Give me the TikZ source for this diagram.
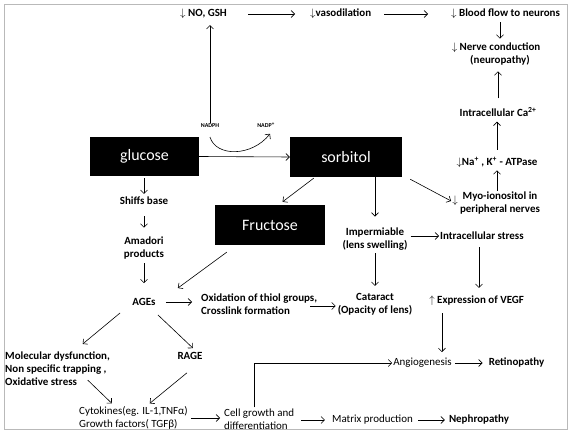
\documentclass[tikz,border=0pt]{standalone}
\usepackage{fontspec}
\setmainfont{Carlito}
\usetikzlibrary{arrows.meta}
\begin{document}
\begin{tikzpicture}[x=1bp,y=-1bp,
  lbl/.style={font=\bfseries\fontsize{11}{13}\selectfont, inner sep=1pt, align=center},
  reg/.style={font=\fontsize{11}{13}\selectfont, inner sep=1pt, align=center},
  blk/.style={fill=black, text=white, font=\fontsize{16}{19}\selectfont, inner sep=0pt},
  tinylbl/.style={font=\bfseries\fontsize{6}{7}\selectfont, inner sep=1pt},
  arr/.style={line width=0.6pt, -{Straight Barb[length=3.5pt,width=7pt]}},
  outerframe/.style={draw=gray!55, line width=1pt}]
\useasboundingbox (0,0) rectangle (573,436);
\draw[outerframe] (4,5) rectangle (567,429);

% black boxes
\node[blk, minimum width=109bp, minimum height=39bp] (glucose) at (144.5,156.5) {glucose};
\node[blk, minimum width=112bp, minimum height=40bp] (sorbitol) at (346,157) {sorbitol};
\node[blk, minimum width=110bp, minimum height=40bp] (fructose) at (270,225) {Fructose};

% top row
\node[lbl, anchor=west] (nogsh) at (179,14) {$\downarrow$\ NO, GSH};
\node[lbl, anchor=west] (vaso) at (309,14) {$\downarrow$vasodilation};
\node[lbl, anchor=west] (blood) at (450,14) {$\downarrow$ Blood flow to neurons};
\node[lbl] (nerve) at (500,54) {\llap{$\downarrow$ }Nerve conduction\\(neuropathy)};
\node[lbl] (ca) at (498,112) {Intracellular Ca\textsuperscript{2+}};
\node[lbl] (na) at (497,162) {$\downarrow$Na\textsuperscript{+} , K\textsuperscript{+} - ATPase};
\node[lbl] (myoarr) at (455,201) {$\downarrow$};
\node[lbl] (myo) at (500,203) {Myo-ionositol in\\peripheral nerves};

\node[tinylbl] (nadph) at (210,126) {NADPH};
\node[tinylbl] (nadp) at (266,125) {NADP\textsuperscript{+}};

% left column
\node[lbl] (shiffs) at (144,201) {Shiffs base};
\node[lbl] (amadori) at (144,248) {Amadori\\products};
\node[lbl] (ages) at (144,302) {AGEs};
\node[lbl, anchor=west, align=left] (oxid) at (200,304) {Oxidation of thiol groups,\\Crosslink formation};
\node[lbl, anchor=west, align=left] (mol) at (4,369) {Molecular dysfunction,\\Non specific trapping ,\\Oxidative stress};
\node[lbl] (rage) at (190,356) {RAGE};
\node[reg, anchor=west, align=left] (cyt) at (78,418) {Cytokines(eg. IL-1,TNFα)\\Growth factors( TGFβ)};
\node[reg, anchor=west, align=left] (cellg) at (223,419) {Cell growth and\\differentiation};
\node[reg] (matrix) at (372.5,420) {Matrix production};
\node[lbl] (nephro) at (479,420) {Nephropathy};

% middle / right
\node[lbl] (imperm) at (375,239) {Impermiable\\(lens swelling)};
\node[lbl] (cataract) at (375,304) {Cataract\\(Opacity of lens)};
\node[lbl, anchor=west] (stress) at (439,236) {Intracellular stress};
\node[lbl, anchor=west] (vegf) at (436,301) {\llap{$\uparrow$\ }Expression of VEGF};
\node[reg] (angio) at (422.5,363) {Angiogenesis};
\node[lbl] (retino) at (516.5,363) {Retinopathy};

% connectors: top
\draw[arr, shorten <=20bp, shorten >=14bp] (nogsh.east) -- (vaso.west);
\draw[arr, shorten <=12bp, shorten >=22bp] (vaso.east) -- (blood.west);
\draw[arr, shorten <=2bp, shorten >=3bp] (nerve.north |- blood.south) -- (nerve.north);
\draw[arr, shorten <=8bp, shorten >=5bp] (ca.north) -- (ca.north |- nerve.south);
\draw[arr, shorten <=6bp, shorten >=4bp] (na.north) -- (na.north |- ca.south);
\draw[arr, shorten >=2bp] (myo.north -| na.north) -- (na.south);

% NADPH
\draw[arr, shorten >=5bp] (nadph.north) -- (nadph.north |- nogsh.south);
\draw[arr] ([yshift=-8pt]nadph.south) .. controls +(6,20) and +(-18,23) .. ([xshift=4pt,yshift=-5pt]nadp.south);

% glucose / sorbitol
\draw[arr] (glucose.east) -- (sorbitol.west);
\draw[arr] ([xshift=24pt,yshift=-1pt]sorbitol.south west) -- ([xshift=68pt,yshift=3pt]fructose.north west);
\draw[arr, shorten >=10bp] (imperm.north |- sorbitol.south) -- (imperm.north);
\draw[arr] ([xshift=8pt,yshift=-2pt]sorbitol.south east) -- (myoarr.west);

% left column
\draw[arr, shorten <=2bp, shorten >=2bp] (shiffs.north |- glucose.south) -- (shiffs.north);
\draw[arr, shorten <=10bp, shorten >=8bp] (shiffs.south) -- (amadori.north);
\draw[arr, shorten <=3bp, shorten >=14bp] (amadori.south) -- (ages.north);
\draw[arr] ([xshift=12pt,yshift=-7pt]fructose.south west) -- ([xshift=34pt,yshift=14pt]ages.center);
\draw[arr, shorten <=9bp, shorten >=8bp] (ages.east) -- (ages.east -| oxid.west);
\draw[arr, shorten >=1bp] ([xshift=-8pt,yshift=-2pt]oxid.east) -- ([yshift=-2pt]cataract.west);
\draw[arr] ([xshift=-24pt,yshift=-11pt]ages.center) -- ([xshift=79pt,yshift=7pt]mol.north west);
\draw[arr] ([xshift=14pt,yshift=-13pt]ages.center) -- ([xshift=3pt,yshift=3pt]rage.north);
\draw[arr] ([xshift=84pt,yshift=7pt]mol.south west) -- ([xshift=34pt,yshift=2pt]cyt.north west);
\draw[arr] ([xshift=-3pt,yshift=-12pt]rage.south) -- ([xshift=72pt,yshift=2pt]cyt.north west);
\draw[arr, shorten <=2bp, shorten >=3bp] (cyt.east) -- (cyt.east -| cellg.west);
\draw[arr, shorten <=6bp, shorten >=6bp] (cellg.east |- matrix.center) -- (matrix.west);
\draw[arr, shorten <=4bp, shorten >=3bp] (matrix.east) -- (nephro.west);
\draw[arr] ([xshift=31pt]cellg.north west) |- (angio.west);

% middle / right
\draw[arr, shorten <=2bp, shorten >=6bp] (imperm.south) -- (cataract.north);
\draw[arr, shorten <=2bp] (imperm.east |- stress.west) -- (stress.west);
\draw[arr, shorten <=6bp, shorten >=7bp] ([xshift=-3pt]stress.south) -- ([xshift=-3pt]stress.south |- vegf.north);
\draw[arr, shorten <=6bp, shorten >=5bp] ([xshift=6pt]vegf.south west) -- ([xshift=6pt]vegf.south west |- angio.north);
\draw[arr, shorten <=2bp, shorten >=5bp] (angio.east) -- (retino.west);
\end{tikzpicture}
\end{document}
